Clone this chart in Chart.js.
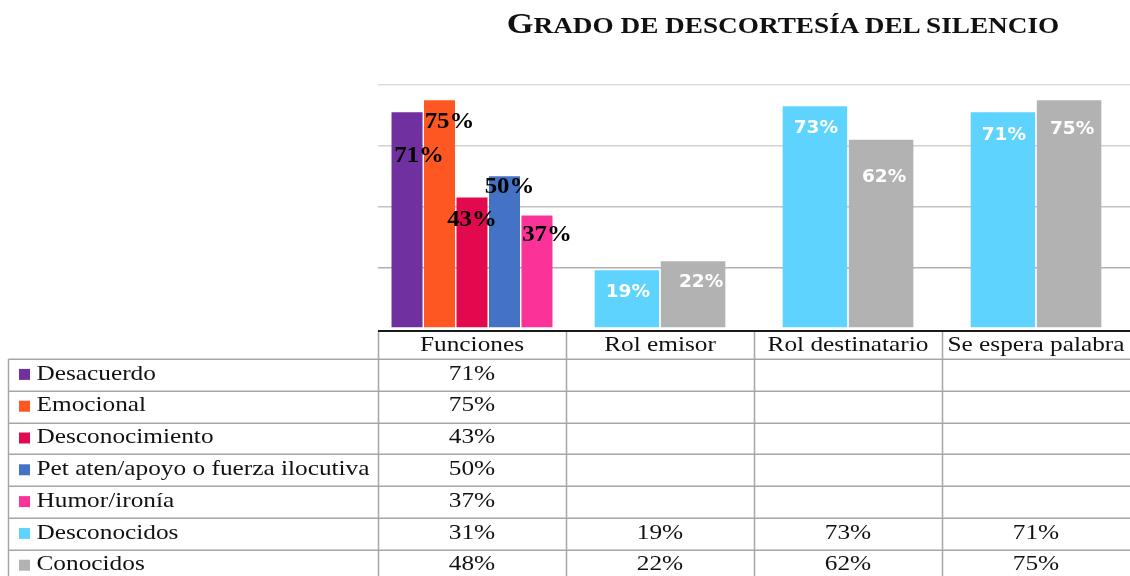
<!DOCTYPE html>
<html><head><meta charset="utf-8">
<script src="https://cdn.jsdelivr.net/npm/chart.js@4.4.1/dist/chart.umd.min.js"></script>
<style>
html,body{margin:0;padding:0;background:#fff;}
#wrap{position:relative;width:1130px;height:576px;overflow:hidden;background:#fff;}
#c{position:absolute;left:0;top:0;}
#title{position:absolute;left:783px;top:6px;height:34px;font-family:'Liberation Serif',serif;font-weight:bold;font-size:23px;line-height:34px;text-transform:uppercase;white-space:nowrap;color:#111;transform-origin:50% 50%;}
#title .big{font-size:29px;}
</style></head>
<body><div id="wrap"><canvas id="c" width="1130" height="576"></canvas><div id="title"><span class="big">G</span>rado de descortesía del silencio</div></div>
<script>
// ---- data ----
const categories = ['Funciones', 'Rol emisor', 'Rol destinatario', 'Se espera palabra'];
const seriesNames = ['Desacuerdo', 'Emocional', 'Desconocimiento', 'Pet aten/apoyo o fuerza ilocutiva', 'Humor/ironía', 'Desconocidos', 'Conocidos'];
const desacuerdo      = [71, null, null, null];
const emocional       = [75, null, null, null];
const desconocimiento = [43, null, null, null];
const petAten         = [50, null, null, null];
const humorIronia     = [37, null, null, null];
const desconocidos    = [31, 19, 73, 71];
const conocidos       = [48, 22, 62, 75];
// which categories show bars for the two "known/unknown" series (Funciones only lists them in the table)
const drawnInChart    = [false, true, true, true];
const yTicks = [0, 20, 40, 60, 80];

const seriesValues = [desacuerdo, emocional, desconocimiento, petAten, humorIronia, desconocidos, conocidos];
const colors = ['#7030A0', '#FF5722', '#E2094F', '#4472C4', '#FB3399', '#5DD3FD', '#B2B2B2'];

const serifBold = "bold 23px 'Liberation Serif'";
const sansBold = "bold 18px 'DejaVu Sans'";
// label placement (dx, dy relative to bar top) per dataset / point
const labelStyle = [
  {font: serifBold, color: '#000', sx: 1.08, dx: [12], dy: [44]},
  {font: serifBold, color: '#000', sx: 1.08, dx: [10], dy: [22]},
  {font: serifBold, color: '#000', sx: 1.08, dx: [0], dy: [23]},
  {font: serifBold, color: '#000', sx: 1.08, dx: [5], dy: [11]},
  {font: serifBold, color: '#000', sx: 1.08, dx: [10], dy: [19]},
  {font: sansBold, color: '#fff', sx: 1.03, dx: [0, 1, 1, 1], dy: [0, 22, 22, 23]},
  {font: sansBold, color: '#fff', sx: 1.03, dx: [0, 8, 3, 3], dy: [0, 21, 38, 29]}
];

const datasets = seriesNames.map((name, i) => {
  const two = i >= 5;
  const vals = seriesValues[i].map((v, k) => (two && !drawnInChart[k]) ? null : v);
  return {
    label: name,
    data: vals,
    backgroundColor: colors[i],
    borderWidth: 0,
    categoryPercentage: two ? 0.704 : 0.864,
    barPercentage: two ? 0.975 : 0.955,
    skipNull: true
  };
});

function sText(ctx, t, x, y, sx) {
  ctx.save();
  ctx.translate(x, y);
  ctx.scale(sx, 1);
  ctx.fillText(t, 0, 0);
  ctx.restore();
}

const labelPlugin = {
  id: 'labels',
  afterDatasetsDraw(chart) {
    const ctx = chart.ctx;
    chart.data.datasets.forEach((ds, d) => {
      const meta = chart.getDatasetMeta(d);
      const st = labelStyle[d];
      meta.data.forEach((el, k) => {
        const v = ds.data[k];
        if (v === null || v === undefined) return;
        ctx.font = st.font;
        ctx.fillStyle = st.color;
        ctx.textAlign = 'center';
        ctx.textBaseline = 'middle';
        sText(ctx, v + '%', el.x + (st.dx[k] || 0), el.y + (st.dy[k] || 0), st.sx);
      });
    });
  }
};

const tablePlugin = {
  id: 'table',
  afterDraw(chart) {
    const ctx = chart.ctx;
    const a = chart.chartArea;
    const n = categories.length;
    const cw = (a.right - a.left) / n;
    const headTop = 331, headBot = 359, rowH = 31.8;
    const tableLeft = 8.5;
    const lineCol = '#a6a6a6';
    ctx.save();
    ctx.strokeStyle = lineCol;
    ctx.lineWidth = 1.5;
    for (let r = 0; r <= seriesNames.length; r++) {
      const y = Math.round(headBot + r * rowH) + 0.25;
      ctx.beginPath(); ctx.moveTo(tableLeft, y); ctx.lineTo(1130, y); ctx.stroke();
    }
    ctx.beginPath(); ctx.moveTo(tableLeft, headBot); ctx.lineTo(tableLeft, 576); ctx.stroke();
    for (let i = 0; i < n; i++) {
      const x = a.left + i * cw + 0.5;
      ctx.beginPath(); ctx.moveTo(x, headTop); ctx.lineTo(x, 576); ctx.stroke();
    }
    ctx.strokeStyle = '#1a1a1a';
    ctx.lineWidth = 2;
    ctx.beginPath(); ctx.moveTo(a.left, headTop); ctx.lineTo(1130, headTop); ctx.stroke();

    ctx.fillStyle = '#111';
    ctx.font = "22px 'Liberation Serif'";
    ctx.textBaseline = 'middle';
    ctx.textAlign = 'center';
    const sx = 1.15;
    categories.forEach((c, i) => {
      sText(ctx, c, a.left + (i + 0.5) * cw, (headTop + headBot) / 2, sx);
    });
    seriesNames.forEach((name, r) => {
      const yc = headBot + (r + 0.5) * rowH - 1;
      ctx.fillStyle = colors[r];
      ctx.fillRect(19, yc - 5, 11, 11);
      ctx.fillStyle = '#111';
      ctx.textAlign = 'left';
      sText(ctx, name, 36.5, yc, sx);
      ctx.textAlign = 'center';
      seriesValues[r].forEach((v, i) => {
        if (v === null || v === undefined) return;
        sText(ctx, v + '%', a.left + (i + 0.5) * cw, yc, sx);
      });
    });
    ctx.restore();
  }
};

const gridColors = ['rgba(0,0,0,0)', '#b0b0b0', '#c2c2c2', '#d2d2d2', '#dddddd'];

new Chart(document.getElementById('c'), {
  type: 'bar',
  data: { labels: categories, datasets },
  options: {
    responsive: false,
    animation: false,
    layout: { padding: { left: 378, right: 0, top: 85, bottom: 248 } },
    plugins: { legend: { display: false }, tooltip: { enabled: false }, title: { display: false } },
    scales: {
      x: { display: false },
      y: {
        min: yTicks[0], max: yTicks[yTicks.length - 1],
        afterBuildTicks(s) { s.ticks = yTicks.map(v => ({ value: v })); },
        afterFit(s) { s.width = 0; },
        ticks: { display: false },
        border: { display: false },
        grid: { drawTicks: false, lineWidth: 1.5, color: (c) => gridColors[c.index] || '#d9d9d9' }
      }
    }
  },
  plugins: [labelPlugin, tablePlugin]
});

const t = document.getElementById('title');
const w = t.offsetWidth;
t.style.transform = 'translateX(-50%) scaleX(' + (553 / w) + ')';
</script>
</body></html>
